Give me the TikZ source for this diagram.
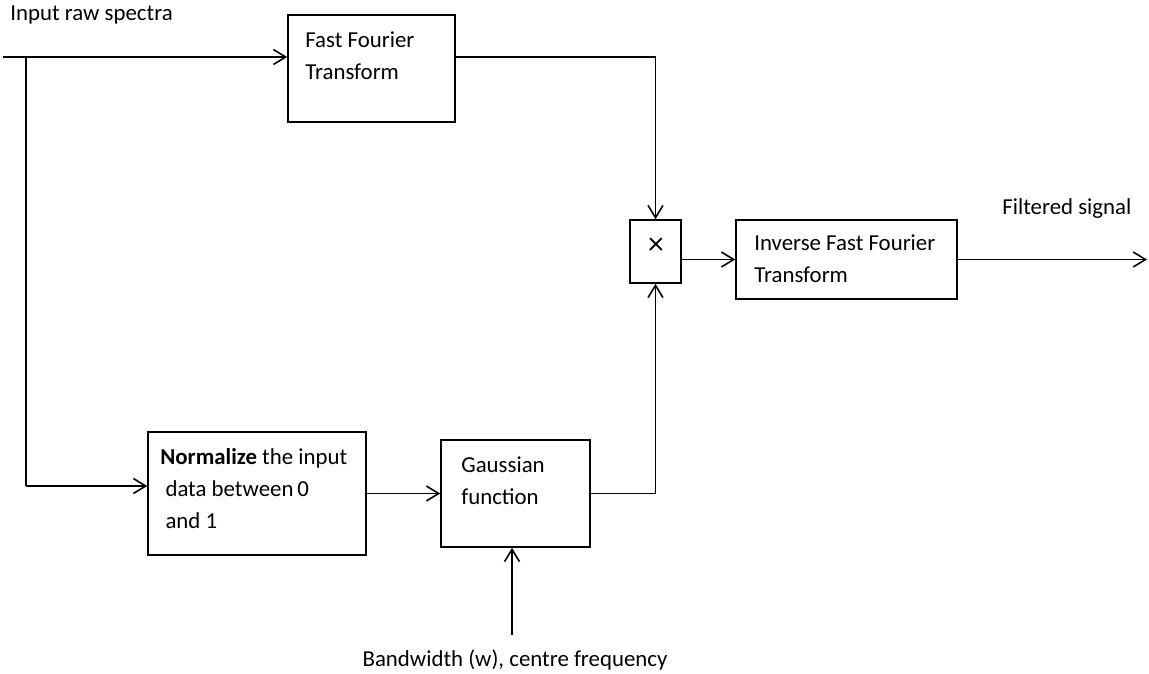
\documentclass[tikz,border=0pt]{standalone}
\usepackage{fontspec}
\setmainfont{Carlito}
\usetikzlibrary{arrows.meta}

\tikzset{
  box/.style={draw, line width=0.9pt, inner sep=0pt},
  txt/.style={inner sep=0pt, align=left, font=\fontsize{13}{18.2}\selectfont},
  flow/.style={line width=0.9pt, -{Straight Barb[length=7pt,width=8.5pt]}}
}

\begin{document}
\begin{tikzpicture}[x=0.02cm, y=-0.02cm]
    \useasboundingbox (0,0) rectangle (1149,673);
    % boxes
    \node[box, minimum width=3.34cm, minimum height=2.14cm] (fft) at (371.5,68.5) {};
    \node[box, minimum width=1.02cm, minimum height=1.26cm] (mult) at (655.5,251.5) {};
    \node[box, minimum width=4.42cm, minimum height=1.58cm] (ifft) at (846.5,259.5) {};
    \node[box, minimum width=4.36cm, minimum height=2.46cm] (norm) at (257,493.5) {};
    \node[box, minimum width=2.98cm, minimum height=2.14cm] (gauss) at (515.5,493.5) {};
    % texts
    \node[txt, anchor=west] (fftlbl) at (305,56) {Fast Fourier\\Transform};
    \node[txt, font=\fontsize{18}{18}\selectfont] (multlbl) at (656,246) {×};
    \node[txt, anchor=west] (ifftlbl) at (754,258.5) {Inverse Fast Fourier\\Transform};
    \node[txt, anchor=west] (normlbl) at (160,488.5) {\textbf{Normalize}\ the input\\\ data between\,0\\\ and 1};
    \node[txt, anchor=west] (gausslbl) at (461,480.5) {Gaussian\\function};
    \node[txt, anchor=west] (inlbl) at (10,15) {Input raw spectra};
    \node[txt, anchor=west] (outlbl) at (1002,209) {Filtered signal};
    \node[txt] (bwlbl) at (515,660) {Bandwidth (w), centre frequency};
    % end points
    \coordinate (in) at (3,57);
    \coordinate (split) at (26,57);
    \coordinate (splitlow) at (26,486);
    \coordinate (out) at (1147,255);
    \coordinate (bw) at (512,635);
    % connectors
    \draw[flow] (in) -- (fft.west |- in);
    \draw[line width=0.9pt] (split) -- (splitlow);
    \draw[flow] (splitlow) -- (norm.west |- splitlow);
    \draw[flow] (fft.east |- in) -| (mult.north);
    \draw[flow] (mult.east |- ifft.west) -- (ifft.west);
    \draw[flow] (ifft.east) -- (ifft.east -| out);
    \draw[flow] (norm) -- (gauss);
    \draw[flow] (gauss.east) -| (mult.south);
    \draw[flow] (bw) -- (bw |- gauss.south);
\end{tikzpicture}
\end{document}
